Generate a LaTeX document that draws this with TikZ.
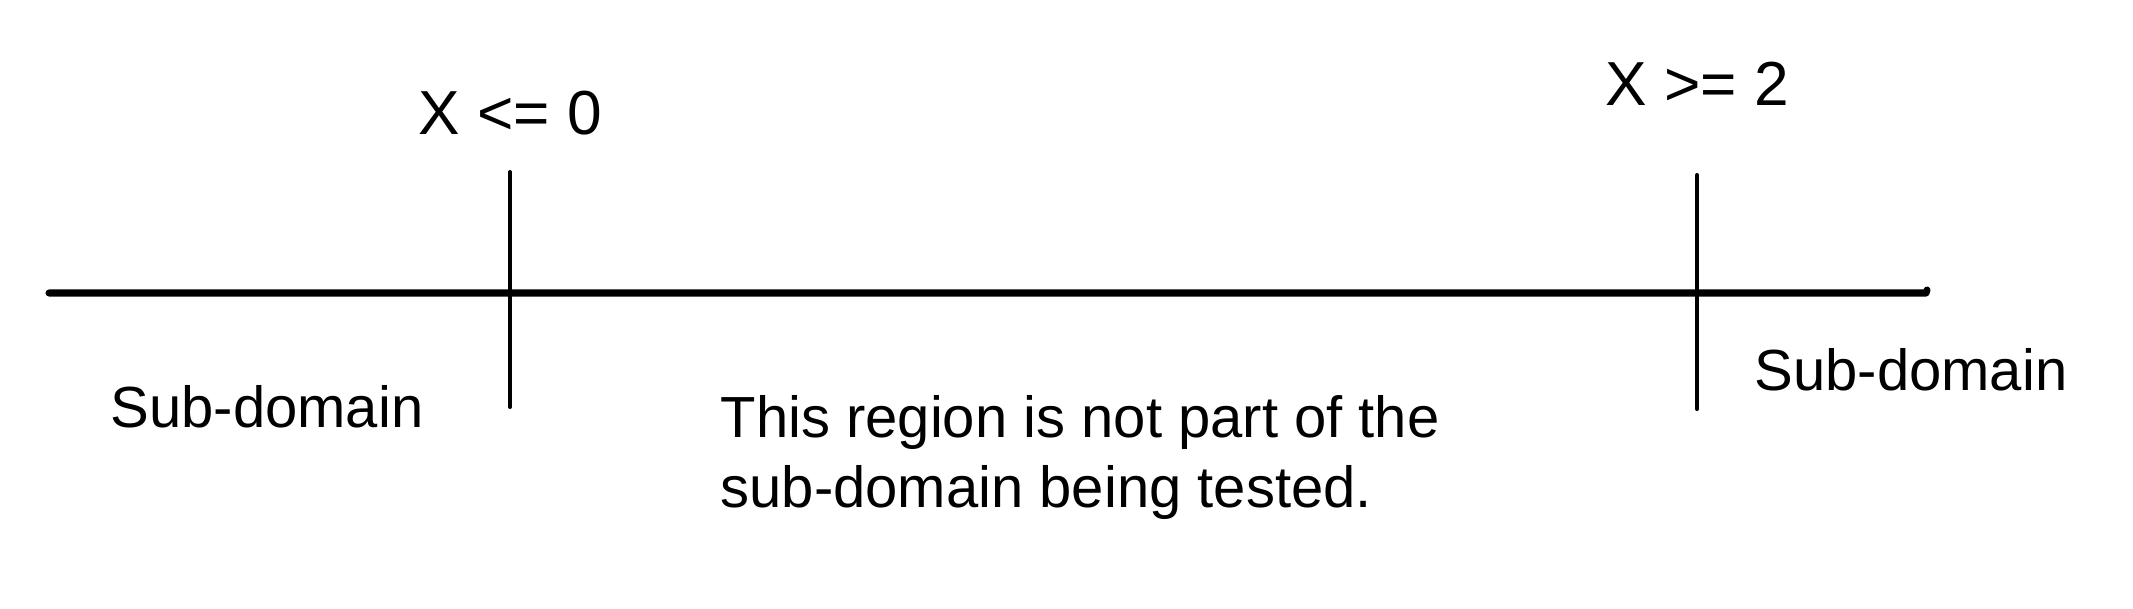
\documentclass[tikz,border=0pt]{standalone}
\usepackage{fontspec}
\setmainfont{Liberation Sans}
\usepackage{tikz}

\begin{document}
\begin{tikzpicture}[
    txt/.style = {anchor = base west, inner sep = 0, font = \fontsize{16.5}{19.9}\selectfont},
    bigtxt/.style = {txt, font = \fontsize{17.7}{21}\selectfont},
    axis/.style = {line width = 2pt, line cap = round, line join = round},
    bound/.style = {line width = 1.15pt, line cap = round}
  ]
    \useasboundingbox (0, 0) rectangle (21.33, 6.08);
    \coordinate (axisL) at (0.49, 3.15);
    \coordinate (axisR) at (19.26, 3.15);
    \coordinate (loTop) at (5.10, 4.36);
    \coordinate (loBot) at (5.10, 2.01);
    \coordinate (hiTop) at (16.97, 4.33);
    \coordinate (hiBot) at (16.97, 1.99);
    \draw[axis] (axisL) -- (axisR) -- ++(0.01, 0.03);
    \draw[bound] (loTop) -- (loBot);
    \draw[bound] (hiTop) -- (hiBot);
    \node[bigtxt] (lolab) at (4.18, 4.74) {X <= 0};
    \node[bigtxt] (hilab) at (16.05, 5.03) {X >= 2};
    \node[txt] (subL) at (1.10, 1.81) {Sub-domain};
    \node[txt] (subR) at (17.54, 2.18) {Sub-domain};
    % base of a two-line node is the last line
    \node[txt, align = left] (gap) at (7.20, 1.01) {This region is not part of the\\sub-domain being tested.};
  \end{tikzpicture}
\end{document}
